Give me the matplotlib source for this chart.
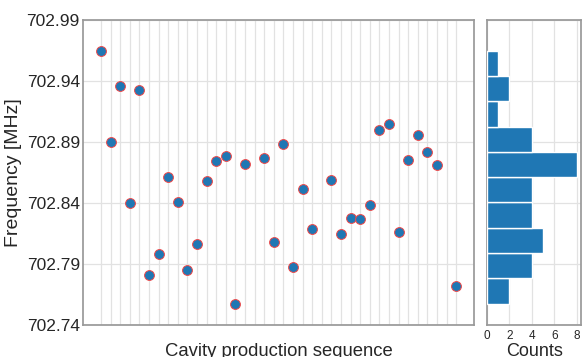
import matplotlib
matplotlib.use("Agg")
import matplotlib.pyplot as plt
import numpy as np

# cavity production index (gaps = cavities without a measurement)
cavity_index = [0, 1, 2, 3, 4, 5, 6, 7, 8, 9, 10, 11, 12, 13, 14, 15,
                17, 18, 19, 20, 21, 22,
                24, 25, 26, 27, 28, 29, 30, 31, 32, 33, 34, 35,
                37]
frequency_mhz = [702.9649, 702.8903, 702.9362, 702.8397, 702.9326, 702.7807,
                 702.7979, 702.8616, 702.8410, 702.7851, 702.8067, 702.8580,
                 702.8742, 702.8788, 702.7575, 702.8720,
                 702.8769, 702.8080, 702.8886, 702.7873, 702.8517, 702.8187,
                 702.8591, 702.8146, 702.8277, 702.8266, 702.8384, 702.8998,
                 702.9048, 702.8165, 702.8752, 702.8957, 702.8815, 702.8711,
                 702.7722]
y_ticks = [702.74, 702.79, 702.84, 702.89, 702.94, 702.99]
y_tick_labels = ["702.74", "702.79", "702.84", "702.89", "702.94", "702.99"]
count_ticks = [0, 2, 4, 6, 8]
n_bins = 10

plt.rcParams['font.family'] = ['Liberation Sans', 'DejaVu Sans']
text_col = '0.15'
spine_col = '0.6'
grid_col = '#e2e2e2'

fig = plt.figure(figsize=(5.84, 3.57), dpi=100)
ax = fig.add_axes([0.1426, 0.0896, 0.669, 0.8544])
axh = fig.add_axes([0.8334, 0.0896, 0.1623, 0.8544], sharey=ax)

for a in (ax, axh):
    a.set_facecolor('white')
    a.set_axisbelow(True)
    for s in a.spines.values():
        s.set_color(spine_col)
        s.set_linewidth(1.25)
    a.grid(True, color=grid_col, linewidth=0.9)
    a.tick_params(length=0, colors=text_col)

# main scatter
ax.scatter(cavity_index, frequency_mhz, s=50, color='#1f77b4',
           edgecolors='#f04848', linewidths=0.7, zorder=3)
ax.set_xticks(np.arange(min(cavity_index), max(cavity_index) + 1))
ax.set_xticklabels([])
ax.set_ylim(y_ticks[0], y_ticks[-1])
ax.set_yticks(y_ticks)
ax.set_yticklabels(y_tick_labels, fontsize=12.5)
ax.tick_params(axis='y', pad=2.5)
ax.set_xlabel("Cavity production sequence", fontsize=13.3, color=text_col)
ax.xaxis.set_label_coords(0.5, -0.1)
ax.xaxis.label.set_va('baseline')
ax.set_ylabel("Frequency [MHz]", fontsize=14, color=text_col)
ax.yaxis.set_label_coords(-0.158, 0.5)

# histogram
axh.hist(frequency_mhz, bins=n_bins, orientation='horizontal',
         color='#1f77b4', edgecolor='white', linewidth=1.0, zorder=3)
axh.set_xticks(count_ticks)
axh.set_xticklabels([str(c) for c in count_ticks], fontsize=8.5)
axh.tick_params(axis='y', labelleft=False)
axh.set_xlabel("Counts", fontsize=13, color=text_col)
axh.xaxis.set_label_coords(0.5, -0.1)
axh.xaxis.label.set_va('baseline')

fig.savefig("out.png", dpi=100, facecolor='white')
